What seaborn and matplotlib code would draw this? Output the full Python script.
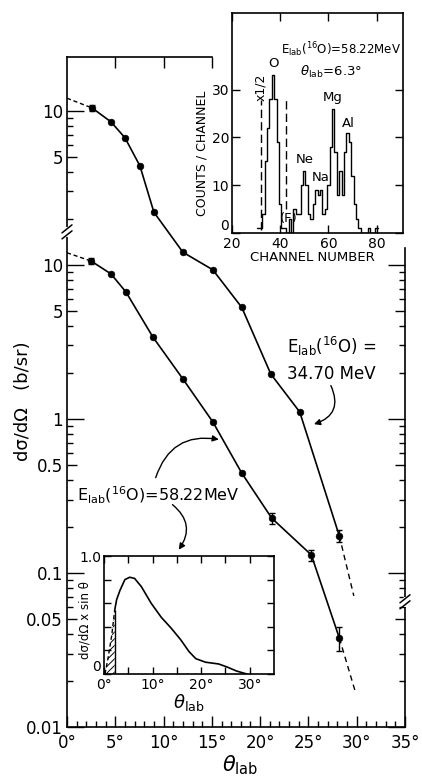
import numpy as np
import pandas as pd
import matplotlib
matplotlib.use("Agg")
import matplotlib.pyplot as plt
from matplotlib.lines import Line2D
from matplotlib.ticker import FixedLocator, FixedFormatter, NullFormatter
import seaborn as sns

sns.set_theme(style="ticks")
plt.rcParams['font.family'] = ['DejaVu Sans']
plt.rcParams['mathtext.fontset'] = 'dejavusans'
plt.rcParams['axes.linewidth'] = 1.1
plt.rcParams['axes.edgecolor'] = 'black'
plt.rcParams['xtick.color'] = 'black'
plt.rcParams['ytick.color'] = 'black'
plt.rcParams['text.color'] = 'black'
plt.rcParams['axes.labelcolor'] = 'black'
plt.rcParams['hatch.linewidth'] = 0.7

# ---------------- data ----------------
# E_lab(16O) = 34.70 MeV  (drawn x10, read on the upper scale)
theta_347 = [2.6, 4.55, 6.0, 7.55, 9.0, 12.0, 15.1, 18.1, 21.1, 24.1, 28.2]
xsec_347 = [10.45, 8.5, 6.7, 4.4, 2.2, 1.21, 0.93, 0.53, 0.196, 0.111, 0.0174]
err_347 = [0.5, 0, 0, 0, 0, 0, 0, 0, 0, 0, 0.0016]
theta_347_lo = [0.0, 2.6]
xsec_347_lo = [12.1, 10.45]
theta_347_hi = [28.2, 29.7]
xsec_347_hi = [0.0174, 0.0071]
offset_347 = 10

# E_lab(16O) = 58.22 MeV
theta_582 = [2.5, 4.55, 6.1, 8.9, 12.0, 15.1, 18.1, 21.2, 25.3, 28.2]
xsec_582 = [10.6, 8.75, 6.68, 3.4, 1.82, 0.957, 0.445, 0.227, 0.131, 0.0378]
err_582 = [0.5, 0, 0, 0, 0, 0, 0, 0.02, 0.011, 0.0065]
theta_582_lo = [0.0, 2.5]
xsec_582_lo = [12.0, 10.6]
theta_582_hi = [28.2, 29.8]
xsec_582_hi = [0.0378, 0.0174]

# spectrum inset
channels = list(range(31, 81))
counts = [1, 1, 4, 15, 22, 28, 33, 28, 19, 6,
          1, 1, 0, 3, 0, 5, 4, 4, 10, 13,
          10, 4, 3, 6, 9, 8, 9, 4, 5, 10,
          18, 26, 17, 8, 13, 8, 17, 21, 19, 12,
          6, 3, 1, 0, 0, 0, 1, 0, 0, 1]
window_ch = [31.9, 42.3]
window_lo = [0.7, 5.0]
window_hi = [27.8, 28.5]
peak_labels = ["O", "Ne", "Na", "Mg", "Al", "(F)"]
peak_ch = [37.4, 50.0, 57.0, 62.0, 68.5, 43.7]
peak_cnt = [35.5, 15.3, 11.6, 28.3, 22.8, 3.0]

# d sigma/d Omega x sin(theta) inset
theta_w = [2.2, 2.6, 3.3, 4.3, 5.3, 6.3, 7.7, 9.7, 11.8, 13.8, 15.8, 17.5,
           18.9, 20.9, 23.6, 25.3, 27.3, 29.4]
wsin = [0.54, 0.63, 0.71, 0.80, 0.82, 0.81, 0.74, 0.60, 0.48, 0.39, 0.29, 0.19,
        0.13, 0.10, 0.085, 0.06, 0.025, 0.0]
theta_w_ext = [0.2, 0.9, 1.6, 2.2]
wsin_ext = [0.0, 0.15, 0.33, 0.54]

# ticks
y_major = [0.01, 0.05, 0.1, 0.5, 1, 5, 10, 50, 100]
y_major_lbl = ['0.01', '0.05', '0.1', '0.5', '1', '5', '10', '5', '10']
x_major = [0, 5, 10, 15, 20, 25, 30, 35]

# ---------------- figure ----------------
W, H = 422, 778
fig = plt.figure(figsize=(W / 100, H / 100), dpi=100)
ax = fig.add_axes([67 / W, 1 - 727 / H, 338 / W, 670 / H])
ax.set_facecolor('white')
ax.set_yscale('log')
ax.set_xlim(0, 35)
ax.set_ylim(0.01, 224)

lw = 1.2
# 34.70 MeV curve (x offset)
df347 = pd.DataFrame({'theta': theta_347, 'y': np.array(xsec_347) * offset_347})
sns.lineplot(data=df347, x='theta', y='y', color='black', lw=lw, sort=False,
             estimator=None, ax=ax)
sns.scatterplot(data=df347, x='theta', y='y', color='black', s=24, edgecolor='black',
                zorder=4, ax=ax)
sns.lineplot(x=theta_347_lo, y=np.array(xsec_347_lo) * offset_347, color='black',
             lw=1.0, ls=(0, (3, 2)), ax=ax)
sns.lineplot(x=theta_347_hi, y=np.array(xsec_347_hi) * offset_347, color='black',
             lw=1.0, ls=(0, (4, 3)), ax=ax)

df582 = pd.DataFrame({'theta': theta_582, 'y': xsec_582})
sns.lineplot(data=df582, x='theta', y='y', color='black', lw=lw, sort=False,
             estimator=None, ax=ax)
sns.scatterplot(data=df582, x='theta', y='y', color='black', s=24, edgecolor='black',
                zorder=4, ax=ax)
sns.lineplot(x=theta_582_lo, y=xsec_582_lo, color='black', lw=1.0, ls=(0, (3, 2)), ax=ax)
sns.lineplot(x=theta_582_hi, y=xsec_582_hi, color='black', lw=1.0, ls=(0, (4, 3)), ax=ax)


def draw_err(th, val, err, scale=1):
    th = np.asarray(th, float)
    val = np.asarray(val, float) * scale
    err = np.asarray(err, float) * scale
    m = err > 0
    ax.errorbar(th[m], val[m], yerr=err[m], fmt='none', ecolor='black',
                elinewidth=1, capsize=2.5, capthick=1, zorder=3)


draw_err(theta_347, xsec_347, err_347, offset_347)
draw_err(theta_582, xsec_582, err_582)
ax.set_xlabel('')
ax.set_ylabel('')

# main ticks
ax.yaxis.set_major_locator(FixedLocator(y_major))
ax.yaxis.set_major_formatter(FixedFormatter(y_major_lbl))
minors = [k * 10.0 ** e for e in (-2, -1, 0) for k in (2, 3, 4, 6, 7, 8, 9)] + [20, 30, 40, 60, 70, 80, 90]
ax.yaxis.set_minor_locator(FixedLocator(minors))
ax.yaxis.set_minor_formatter(NullFormatter())
ax.tick_params(axis='y', which='major', direction='in', length=12, width=1.0,
               labelsize=12, pad=3, left=True, right=False)
ax.tick_params(axis='y', which='minor', direction='in', length=4.5, width=1.0,
               left=True, right=False)
for t, v in zip(ax.yaxis.get_major_ticks(), y_major):
    if str(v).lstrip('0.').startswith('5'):
        t.tick1line.set_markersize(7)

ax.xaxis.set_major_locator(FixedLocator(x_major))
ax.xaxis.set_major_formatter(FixedFormatter([f'{v}°' for v in x_major]))
ax.xaxis.set_minor_locator(FixedLocator(list(range(0, 36))))
ax.tick_params(axis='x', which='major', direction='in', length=8, width=1.0,
               labelsize=12, pad=5, top=False, bottom=True)
ax.tick_params(axis='x', which='minor', direction='in', length=4, width=1.0,
               top=False, bottom=True)
ax.spines['top'].set_bounds(0, 15)
ax.spines['right'].set_bounds(0.01, 12.9)
for s in ax.spines.values():
    s.set_linewidth(1.2)

# top ticks
axt = ax.twiny()
axt.set_xlim(0, 35)
axt.xaxis.set_major_locator(FixedLocator([5, 10, 15]))
axt.xaxis.set_major_formatter(NullFormatter())
axt.tick_params(axis='x', direction='in', length=8, width=1.0)
for s in axt.spines.values():
    s.set_visible(False)

# right ticks
axr = ax.twinx()
axr.set_yscale('log')
axr.set_ylim(0.01, 224)
r_major = [0.01, 0.05, 0.1, 0.5, 1, 5, 10]
axr.yaxis.set_major_locator(FixedLocator(r_major))
axr.yaxis.set_major_formatter(NullFormatter())
axr.yaxis.set_minor_locator(FixedLocator([k * 10.0 ** e for e in (-2, -1, 0) for k in (2, 3, 4, 6, 7, 8, 9)]))
axr.yaxis.set_minor_formatter(NullFormatter())
axr.tick_params(axis='y', which='major', direction='in', length=12, width=1.0)
axr.tick_params(axis='y', which='minor', direction='in', length=4.5, width=1.0)
for t, v in zip(axr.yaxis.get_major_ticks(), r_major):
    if str(v).lstrip('0.').startswith('5'):
        t.tick2line.set_markersize(7)
for s in axr.spines.values():
    s.set_visible(False)


# axis break marks
def axis_break(xd, yd):
    px, py = ax.transData.transform((xd, yd))
    inv = fig.transFigure.inverted()

    def P(dx, dy):
        return inv.transform((px + dx, py + dy))
    a, b = P(0, -3), P(0, 3)
    fig.add_artist(Line2D([a[0], b[0]], [a[1], b[1]], color='white', lw=3, zorder=10))
    for cy in (-3, 3):
        a, b = P(-5, cy - 4), P(5, cy + 4)
        fig.add_artist(Line2D([a[0], b[0]], [a[1], b[1]], color='black', lw=1.1, zorder=11))


axis_break(0, 16.4)
axis_break(35, 0.065)

# labels
fig.text(23 / W, 1 - 401 / H, 'dσ/dΩ   (b/sr)', rotation=90, ha='center',
         va='center', fontsize=13)
fig.text(240 / W, 1 - 753 / H, r'$\theta_{\mathrm{lab}}$', ha='center', va='top',
         fontsize=15)

# annotations
ax.text(22.8, 2.94, r'E$_{\mathrm{lab}}$($^{16}$O) =', fontsize=12, ha='left', va='center')
ax.text(22.8, 1.96, '34.70 MeV', fontsize=12, ha='left', va='center')
ax.annotate('', xy=(25.3, 0.914), xytext=(27.2, 1.71),
            arrowprops=dict(arrowstyle='-|>', color='black', lw=1.0,
                            connectionstyle='arc3,rad=-0.6', mutation_scale=9))
ax.text(1.0, 0.321, r'E$_{\mathrm{lab}}$($^{16}$O)=58.22MeV', fontsize=11.5,
        ha='left', va='center')
ax.annotate('', xy=(16.0, 0.731), xytext=(9.1, 0.40),
            arrowprops=dict(arrowstyle='-|>', color='black', lw=1.0,
                            connectionstyle='arc3,rad=-0.45', mutation_scale=9))
ax.annotate('', xy=(11.4, 0.137), xytext=(10.7, 0.285),
            arrowprops=dict(arrowstyle='-|>', color='black', lw=1.0,
                            connectionstyle='arc3,rad=-0.5', mutation_scale=9))

# ---------------- spectrum inset ----------------
axs = fig.add_axes([232 / W, 1 - 233 / H, 171 / W, 220 / H])
axs.set_facecolor('white')
sns.histplot(x=channels, weights=counts, discrete=True, element='step', fill=False,
             color='black', linewidth=1.0, ax=axs)
axs.vlines(window_ch, window_lo, window_hi, colors='black', linestyles=(0, (6, 3)), lw=1.0)
axs.set_xlim(20, 91)
axs.set_ylim(0, 46)
axs.xaxis.set_major_locator(FixedLocator([20, 40, 60, 80]))
axs.xaxis.set_major_formatter(FixedFormatter(['20', '40', '60', '80']))
axs.yaxis.set_major_locator(FixedLocator([0, 10, 20, 30]))
axs.yaxis.set_major_formatter(FixedFormatter(['0', '10', '20', '30']))
axs.tick_params(direction='in', top=True, right=True, length=6, width=1.0,
                labelsize=10, pad=2)
axs.tick_params(axis='x', pad=3)
axs.yaxis.get_major_ticks()[0].label1.set_va('bottom')
for s in axs.spines.values():
    s.set_linewidth(1.2)
axs.set_xlabel('CHANNEL NUMBER', fontsize=9.5)
axs.set_ylabel('COUNTS / CHANNEL', fontsize=9)
axs.xaxis.set_label_coords(0.47, -0.08)
axs.yaxis.set_label_coords(-0.14, 0.36)
for lbl, c, n in zip(peak_labels, peak_ch, peak_cnt):
    axs.text(c, n, lbl, fontsize=9.5, ha='center', va='center')
axs.text(32.0, 30.5, 'x1/2', rotation=90, fontsize=9, ha='center', va='center')
axs.text(40.5, 38.4, r'E$_{\mathrm{lab}}$($^{16}$O)=58.22MeV', fontsize=8.5,
         ha='left', va='center')
axs.text(61.0, 33.6, r'$\theta_{\mathrm{lab}}$=6.3°', fontsize=9.5, ha='center', va='center')

# ---------------- angular-distribution-weight inset ----------------
ax2 = fig.add_axes([104 / W, 1 - 674 / H, 170 / W, 118 / H])
ax2.set_facecolor('white')
sns.lineplot(x=theta_w, y=wsin, color='black', lw=1.2, sort=False, estimator=None, ax=ax2)
sns.lineplot(x=theta_w_ext, y=wsin_ext, color='black', lw=1.0, ls=(0, (3, 2)),
             sort=False, estimator=None, ax=ax2)
ax2.fill_between(theta_w_ext, 0, wsin_ext, hatch='/////', facecolor='none',
                 edgecolor='black', linewidth=0)
ax2.vlines(theta_w_ext[-1], 0, wsin_ext[-1], colors='black', lw=1.0)
ax2.set_xlim(0, 35)
ax2.set_ylim(0, 1.0)
ax2.xaxis.set_major_locator(FixedLocator([0, 5, 10, 15, 20, 25, 30]))
ax2.xaxis.set_major_formatter(FixedFormatter(['0°', '', '10°', '', '20°', '', '30°']))
ax2.yaxis.set_major_locator(FixedLocator([0, 0.2, 0.4, 0.6, 0.8, 1.0]))
ax2.yaxis.set_major_formatter(FixedFormatter(['0', '', '', '', '', '1.0']))
ax2.tick_params(direction='in', top=True, right=True, length=5, width=1.0,
                labelsize=10, pad=2)
ax2.tick_params(axis='x', pad=3)
ax2.yaxis.get_major_ticks()[0].label1.set_va('bottom')
for s in ax2.spines.values():
    s.set_linewidth(1.2)
ax2.set_xlabel(r'$\theta_{\mathrm{lab}}$', fontsize=13, labelpad=0)
ax2.set_ylabel('dσ/dΩ x sin θ', fontsize=8.5)
ax2.yaxis.set_label_coords(-0.075, 0.46)

fig.savefig('out.png', dpi=100)
